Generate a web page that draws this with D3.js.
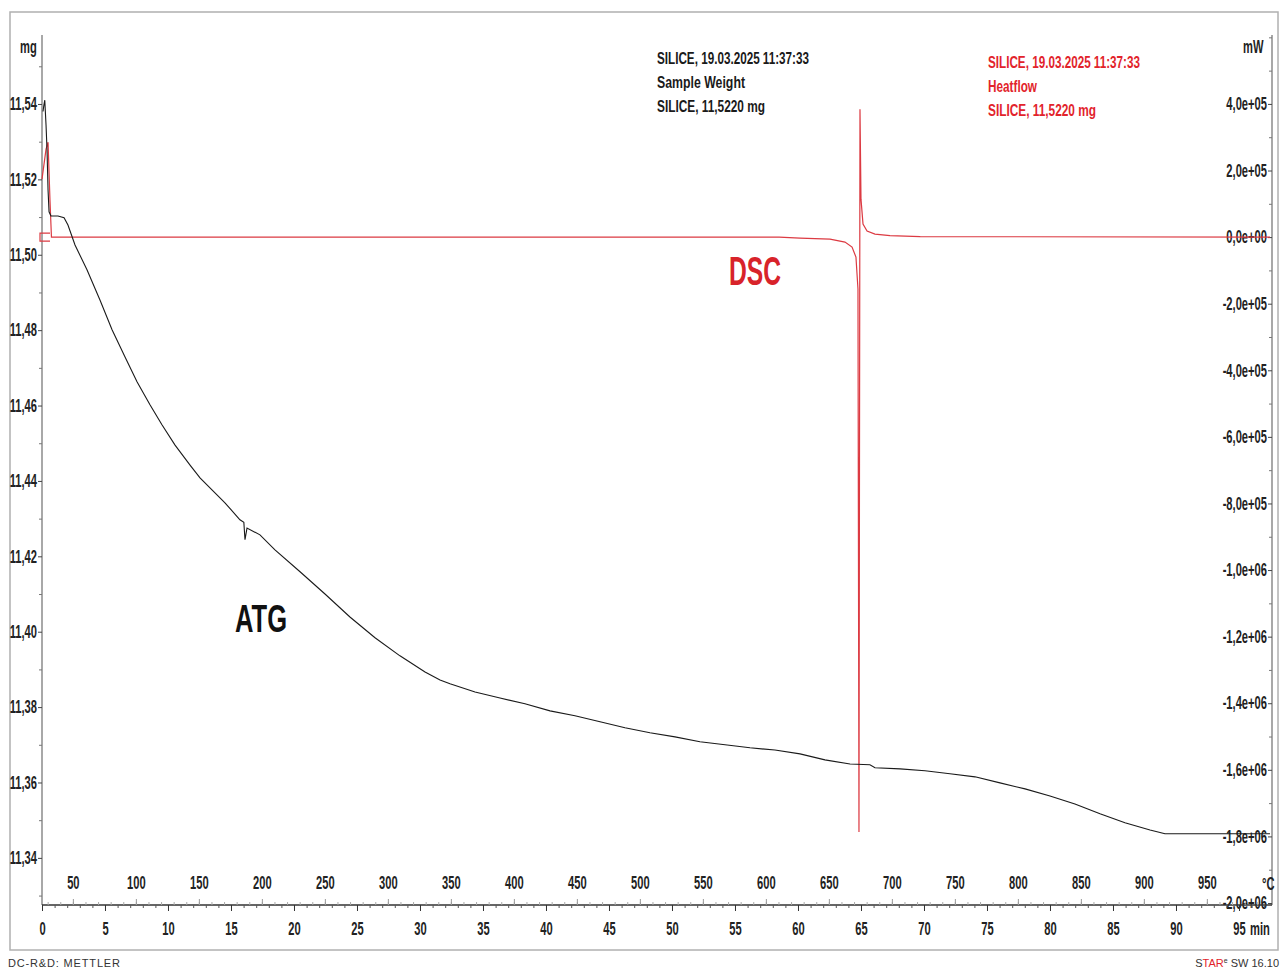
<!DOCTYPE html>
<html><head><meta charset="utf-8">
<script src="https://cdn.jsdelivr.net/npm/d3@7"></script>
<style>
body{margin:0;background:#fff}
svg{display:block}
text{font-family:"Liberation Sans",Arial,sans-serif}
</style>
</head><body>
<svg id="chart" width="1281" height="968"></svg>
<script>
// ---- Sample weight (ATG) curve: time in min, mass in mg ----
const atgTime = [
  0.08, 0.14, 0.22, 0.32, 0.40, 0.48, 0.56, 0.71, 1.27, 1.75,
  2.06, 2.62, 3.57, 4.60, 5.56, 6.59, 7.54, 8.57, 9.52, 10.56,
  11.75, 12.54, 13.49, 14.52, 15.71, 16.02, 16.11, 16.27, 17.30, 18.49,
  20.48, 22.46, 24.44, 26.43, 28.41, 30.40, 31.59, 32.38, 34.37, 36.35,
  38.33, 40.32, 42.30, 44.29, 46.27, 48.25, 50.24, 52.22, 54.21, 56.19,
  58.17, 60.16, 62.14, 64.13, 65.71, 66.11, 68.10, 70.08, 72.06, 74.05,
  76.03, 78.02, 80.00, 81.98, 83.97, 85.95, 87.94, 89.13, 97.46
];
const atgMass = [
  11.5380, 11.5395, 11.5410, 11.5344, 11.5278, 11.5172, 11.5114, 11.5103, 11.5103, 11.5098,
  11.5079, 11.5026, 11.4960, 11.4880, 11.4801, 11.4729, 11.4663, 11.4602, 11.4549, 11.4495,
  11.4442, 11.4408, 11.4376, 11.4342, 11.4297, 11.4290, 11.4244, 11.4275, 11.4257, 11.4217,
  11.4159, 11.4100, 11.4039, 11.3984, 11.3936, 11.3893, 11.3872, 11.3862, 11.3840, 11.3824,
  11.3809, 11.3790, 11.3777, 11.3761, 11.3745, 11.3732, 11.3721, 11.3708, 11.3700, 11.3692,
  11.3686, 11.3676, 11.3660, 11.3649, 11.3647, 11.3639, 11.3636, 11.3631, 11.3623, 11.3615,
  11.3599, 11.3583, 11.3564, 11.3543, 11.3517, 11.3493, 11.3474, 11.3464, 11.3464
];

// ---- Heat flow (DSC) curve: time in min, heat flow in mW ----
const dscTime = [
  0.00, 0.32, 0.48, 0.63, 0.75, 58.50, 60.16, 62.54, 63.73, 64.29,
  64.60, 64.76, 64.84, 64.92, 65.00, 65.16, 65.48, 66.11, 67.30, 69.70, 97.46
];
const dscFlow = [
  174000, 264000, 285000, 114000, 0, 0, -3000, -6000, -15000, -30000,
  -60000, -156000, -1787000, 384000, 114000, 39000, 18000, 9000, 4500, 1500, 0
];

// ---- Tick values ----
const massTicks = [11.34, 11.36, 11.38, 11.40, 11.42, 11.44, 11.46, 11.48, 11.50, 11.52, 11.54];
const massMinor = [11.33, 11.35, 11.37, 11.39, 11.41, 11.43, 11.45, 11.47, 11.49, 11.51, 11.53, 11.55];
const flowTicks = [-2.0e6, -1.8e6, -1.6e6, -1.4e6, -1.2e6, -1.0e6, -8.0e5, -6.0e5, -4.0e5, -2.0e5, 0, 2.0e5, 4.0e5];
const flowMinor = [-1.9e6, -1.7e6, -1.5e6, -1.3e6, -1.1e6, -9e5, -7e5, -5e5, -3e5, -1e5, 1e5, 3e5, 5e5, 6e5];
const timeTicks = [0, 5, 10, 15, 20, 25, 30, 35, 40, 45, 50, 55, 60, 65, 70, 75, 80, 85, 90, 95];
const tempTicks = [50, 100, 150, 200, 250, 300, 350, 400, 450, 500, 550, 600, 650, 700, 750, 800, 850, 900, 950];

const legendWeight = ["SILICE, 19.03.2025 11:37:33", "Sample Weight", "SILICE, 11,5220 mg"];
const legendHeat = ["SILICE, 19.03.2025 11:37:33", "Heatflow", "SILICE, 11,5220 mg"];

// ---- Layout ----
const L = 42, R = 1272, T = 35, B = 905;
const RED = "#dc3a42";
const tMax = 97.62, temp0 = 25.5;   // 10 K/min heating from ~25.5 °C

const svg = d3.select("#chart");
const x = d3.scaleLinear().domain([0, tMax]).range([L, R]);
const xTemp = d3.scaleLinear().domain([temp0, temp0 + 10 * tMax]).range([L, R]);
const yL = d3.scaleLinear().domain([11.3275, 11.5583]).range([B, T]);
const yR = d3.scaleLinear().domain([-2.006e6, 6.07e5]).range([B, T]);

const fmtMass = v => v.toFixed(2).replace(".", ",");
const fmtFlow = v => {
  if (v === 0) return "0,0e+00";
  const e = Math.floor(Math.log10(Math.abs(v)) + 1e-9);
  const m = v / Math.pow(10, e);
  return m.toFixed(1).replace(".", ",") + "e" + (e < 0 ? "-" : "+") + String(Math.abs(e)).padStart(2, "0");
};

// condense a tick label horizontally around its own anchor
const SX = 0.62;
function condense(sel) {
  sel.selectAll("text").each(function () {
    const t = d3.select(this);
    const ax = +t.attr("x") || 0, ay = +t.attr("y") || 0;
    t.attr("transform", `translate(${ax},${ay}) scale(${SX},1) translate(${-ax},${-ay})`)
     .attr("font-size", 18).attr("font-family", "Liberation Sans, Arial, sans-serif")
     .attr("font-weight", "bold").attr("fill", "#222");
  });
}
function styleTicks(g, color) {
  g.select(".domain").remove();
  g.selectAll("line").attr("stroke", color).attr("stroke-width", 1);
}

// outer frame
svg.append("rect").attr("x", 10).attr("y", 12).attr("width", 1268).attr("height", 938)
  .attr("fill", "none").attr("stroke", "#b0b0b0").attr("stroke-width", 1.5);

// left mass axis
svg.append("line").attr("x1", L).attr("x2", L).attr("y1", T).attr("y2", B)
  .attr("stroke", "#a8a8a8").attr("stroke-width", 2);
svg.append("g").attr("transform", `translate(${L},0)`)
  .call(d3.axisLeft(yL).tickValues(massMinor).tickSize(3).tickFormat(""))
  .call(g => styleTicks(g, "#777"));
svg.append("g").attr("transform", `translate(${L},0)`)
  .call(d3.axisLeft(yL).tickValues(massTicks).tickSize(4).tickPadding(1).tickFormat(fmtMass))
  .call(g => styleTicks(g, "#444")).call(condense);

// right heat-flow axis (labels sit inside the plot)
svg.append("line").attr("x1", R).attr("x2", R).attr("y1", T).attr("y2", B)
  .attr("stroke", "#a8a8a8").attr("stroke-width", 2);
svg.append("g").attr("transform", `translate(${R},0)`)
  .call(d3.axisLeft(yR).tickValues(flowMinor).tickSize(3).tickFormat(""))
  .call(g => styleTicks(g, "#777"));
svg.append("g").attr("transform", `translate(${R},0)`)
  .call(d3.axisLeft(yR).tickValues(flowTicks).tickSize(4).tickPadding(1).tickFormat(fmtFlow))
  .call(g => styleTicks(g, "#444")).call(condense);

// bottom axes: time below, temperature above
svg.append("line").attr("x1", L).attr("x2", R).attr("y1", B).attr("y2", B)
  .attr("stroke", "#333").attr("stroke-width", 1.5);
svg.append("g").attr("transform", `translate(0,${B})`)
  .call(d3.axisBottom(x).tickValues(d3.range(0, 98, 1)).tickSize(3).tickFormat(""))
  .call(g => styleTicks(g, "#555"));
svg.append("g").attr("transform", `translate(0,${B})`)
  .call(d3.axisBottom(x).tickValues(timeTicks).tickSize(6).tickPadding(11).tickFormat(d => d))
  .call(g => styleTicks(g, "#333")).call(condense);
svg.append("g").attr("transform", `translate(0,${B})`)
  .call(d3.axisTop(xTemp).tickValues(d3.range(30, 1000, 10)).tickSize(3).tickFormat(""))
  .call(g => styleTicks(g, "#aaa"));
svg.append("g").attr("transform", `translate(0,${B})`)
  .call(d3.axisTop(xTemp).tickValues(tempTicks).tickSize(6).tickPadding(10).tickFormat(d => d))
  .call(g => styleTicks(g, "#999")).call(condense);

// unit labels
function unit(txt, ux, uy, anchor) {
  svg.append("text").attr("x", ux).attr("y", uy).attr("text-anchor", anchor || "start")
    .attr("transform", `translate(${ux},${uy}) scale(${SX},1) translate(${-ux},${-uy})`)
    .attr("font-size", 18).attr("font-weight", "bold").attr("fill", "#222").text(txt);
}
unit("mg", 20, 53);
unit("mW", 1243, 53);
unit("°C", 1262, 890);
unit("min", 1250, 935);

// curves
const atgLine = d3.line().x((d, i) => x(atgTime[i])).y(d => yL(d));
const dscLine = d3.line().x((d, i) => x(dscTime[i])).y(d => yR(d));

svg.append("path").attr("d", dscLine(dscFlow))
  .attr("fill", "none").attr("stroke", RED).attr("stroke-width", 1.2);
svg.append("path").attr("d", atgLine(atgMass))
  .attr("fill", "none").attr("stroke", "#1a1a1a").attr("stroke-width", 1.1);

// start marker on the heat-flow curve
const mx = x(0), my = yR(0);
svg.append("path").attr("d", `M${mx + 8},${my - 4}H${mx - 2}V${my + 4}H${mx + 8}`)
  .attr("fill", "none").attr("stroke", RED).attr("stroke-width", 1.2);

// legends
function legend(lines, lx, ly, color) {
  const widths = lines.map(s => s.length === 27 ? 152 : (s === "Heatflow" ? 49 : (s === "Sample Weight" ? 88 : 108)));
  lines.forEach((s, i) => {
    svg.append("text").attr("x", lx).attr("y", ly + i * 24)
      .attr("font-size", 17).attr("font-weight", "bold").attr("fill", color)
      .attr("textLength", widths[i]).attr("lengthAdjust", "spacingAndGlyphs").text(s);
  });
}
legend(legendWeight, 657, 64, "#1a1a1a");
legend(legendHeat, 988, 68, "#e2232b");

// curve labels
svg.append("text").attr("x", 729).attr("y", 285).attr("font-size", 40).attr("font-weight", "bold")
  .attr("fill", "#d8232a").attr("textLength", 52).attr("lengthAdjust", "spacingAndGlyphs").text("DSC");
svg.append("text").attr("x", 235).attr("y", 632).attr("font-size", 38).attr("font-weight", "bold")
  .attr("fill", "#111").attr("textLength", 52).attr("lengthAdjust", "spacingAndGlyphs").text("ATG");

// footer
svg.append("text").attr("x", 8).attr("y", 967).attr("font-size", 11).attr("fill", "#333")
  .attr("textLength", 112).attr("lengthAdjust", "spacing").text("DC-R&D: METTLER");
const star = svg.append("text").attr("x", 1279).attr("y", 967).attr("text-anchor", "end")
  .attr("font-size", 11).attr("fill", "#333");
star.append("tspan").text("S");
star.append("tspan").attr("fill", "#e2232b").text("TAR");
star.append("tspan").attr("font-size", 7).attr("dy", -4).text("e");
star.append("tspan").attr("dy", 4).text(" SW 16.10");
</script>
</body></html>
